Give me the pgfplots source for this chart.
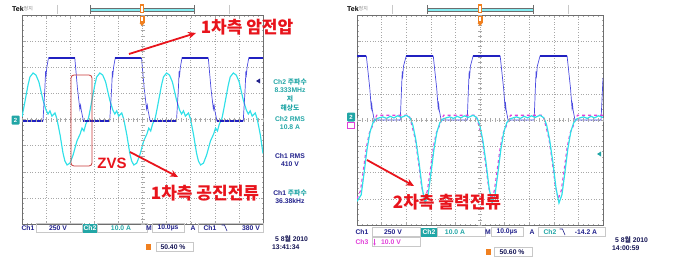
\documentclass[border=0pt]{standalone}
\usepackage{pgfplots}
\pgfplotsset{compat=1.18}
\usepackage{fontspec}
\setmainfont{Liberation Sans}
\newfontfamily\kr{Noto Sans CJK KR}
\usetikzlibrary{arrows.meta}
\definecolor{chone}{HTML}{2020C0}
\definecolor{choneedge}{HTML}{4A4AE0}
\definecolor{chtwo}{HTML}{30E0E8}
\definecolor{chthree}{HTML}{E040D8}
\definecolor{tealt}{HTML}{22A6A6}
\definecolor{navyt}{HTML}{22228C}
\definecolor{redl}{HTML}{E8141C}
\definecolor{boxred}{HTML}{C83838}
\definecolor{orangem}{HTML}{F08020}
\definecolor{gridc}{HTML}{A8A8A8}
\definecolor{framec}{HTML}{6E6E6E}
\definecolor{boxc}{HTML}{C8C8C8}
\pgfplotsset{tekscope/.style={scale only axis, xmin=0,xmax=10,ymin=-4,ymax=4,
  xtick={0,...,10}, ytick={-4,...,4}, minor x tick num=4, minor y tick num=4,
  xticklabels={}, yticklabels={}, tick align=inside,
  major tick length=2.5pt, minor tick length=1.5pt,
  every tick/.style={gridc, line width=0.4pt},
  grid=major, major grid style={gridc, line width=0.5pt, dash pattern=on 0.6pt off 2pt},
  axis line style={framec, line width=0.8pt}, clip=true, anchor=south west,
  unbounded coords=jump}}
\newcommand{\fsz}[1]{\fontsize{#1}{#1}\selectfont}
\begin{document}
\begin{tikzpicture}
\path[use as bounding box] (0,0) rectangle (676pt,-259pt);
% ---------------- LEFT SCOPE ----------------
\begin{axis}[tekscope, at={(22pt,-224pt)}, width=241pt, height=209pt]
\addplot[chtwo, line width=1.15pt] coordinates {
(0,0.10)(0.08,0.48)(0.25,1.32)(0.33,1.63)(0.46,1.78)(0.58,1.70)(0.70,1.44)(0.87,0.75)(1.00,0.36)(1.08,0.21)(1.16,0.33)(1.24,0.13)(1.37,0.25)(1.45,0.02)(1.58,-0.59)(1.70,-1.28)(1.78,-1.59)(1.87,-1.74)(1.99,-1.67)(2.12,-1.36)(2.28,-0.82)(2.41,-0.56)(2.49,-0.33)(2.57,-0.44)(2.65,-0.17)(2.73,-0.02)
(2.77,0.10)(2.85,0.48)(3.02,1.32)(3.10,1.63)(3.23,1.78)(3.35,1.70)(3.47,1.44)(3.64,0.75)(3.77,0.36)(3.85,0.21)(3.93,0.33)(4.01,0.13)(4.14,0.25)(4.22,0.02)(4.35,-0.59)(4.47,-1.28)(4.55,-1.59)(4.64,-1.74)(4.76,-1.67)(4.89,-1.36)(5.05,-0.82)(5.18,-0.56)(5.26,-0.33)(5.34,-0.44)(5.42,-0.17)(5.50,-0.02)
(5.54,0.10)(5.62,0.48)(5.79,1.32)(5.87,1.63)(6.00,1.78)(6.12,1.70)(6.24,1.44)(6.41,0.75)(6.54,0.36)(6.62,0.21)(6.70,0.33)(6.78,0.13)(6.91,0.25)(6.99,0.02)(7.12,-0.59)(7.24,-1.28)(7.32,-1.59)(7.41,-1.74)(7.53,-1.67)(7.66,-1.36)(7.82,-0.82)(7.95,-0.56)(8.03,-0.33)(8.11,-0.44)(8.19,-0.17)(8.27,-0.02)
(8.31,0.10)(8.39,0.48)(8.56,1.32)(8.64,1.63)(8.77,1.78)(8.89,1.70)(9.01,1.44)(9.18,0.75)(9.31,0.36)(9.39,0.21)(9.47,0.33)(9.55,0.13)(9.68,0.25)(9.76,0.02)(9.89,-0.59)(10,-1.3)
};
\addplot[choneedge, line width=0.7pt] coordinates {
(0,-0.06)(0.87,-0.06)(0.95,1.2)(0.98,1.85)(1.0,1.7)(1.03,2.0)(1.1,2.36)(2.19,2.36)(2.3,1.2)(2.4,0.4)(2.43,0.55)(2.46,0.35)(2.55,-0.06)
(3.64,-0.06)(3.72,1.2)(3.75,1.85)(3.77,1.7)(3.80,2.0)(3.87,2.36)(4.96,2.36)(5.07,1.2)(5.17,0.4)(5.20,0.55)(5.23,0.35)(5.32,-0.06)
(6.41,-0.06)(6.49,1.2)(6.52,1.85)(6.54,1.7)(6.57,2.0)(6.64,2.36)(7.73,2.36)(7.84,1.2)(7.94,0.4)(7.97,0.55)(8.00,0.35)(8.09,-0.06)
(9.18,-0.06)(9.26,1.2)(9.29,1.85)(9.31,1.7)(9.34,2.0)(9.41,2.36)(10,2.36)
};
\addplot[chone, line width=1.7pt] coordinates {
(0,-0.06)(0.87,-0.06)(nan,nan)(1.1,2.36)(2.19,2.36)(nan,nan)(2.55,-0.06)(3.64,-0.06)(nan,nan)
(3.87,2.36)(4.96,2.36)(nan,nan)(5.32,-0.06)(6.41,-0.06)(nan,nan)(6.64,2.36)(7.73,2.36)(nan,nan)
(8.09,-0.06)(9.18,-0.06)(nan,nan)(9.41,2.36)(10,2.36)
};
\end{axis}
% ---------------- RIGHT SCOPE ----------------
\begin{axis}[tekscope, at={(357pt,-225pt)}, width=246pt, height=210pt]
\addplot[choneedge, line width=0.7pt] coordinates {
(0,2.44)(0.38,2.44)(0.52,1.2)(0.58,0.46)(0.60,0.6)(0.62,0.4)(0.70,0.0)
(1.76,0.0)(1.81,1.2)(1.84,1.85)(1.86,1.7)(1.89,2.05)(2.00,2.44)(3.10,2.44)(3.24,1.2)(3.30,0.46)(3.32,0.6)(3.34,0.4)(3.42,0.0)
(4.48,0)(4.53,1.2)(4.56,1.85)(4.58,1.7)(4.61,2.05)(4.72,2.44)(5.82,2.44)(5.96,1.2)(6.02,0.46)(6.04,0.6)(6.06,0.4)(6.14,0)
(7.20,0)(7.25,1.2)(7.28,1.85)(7.30,1.7)(7.33,2.05)(7.44,2.44)(8.54,2.44)(8.68,1.2)(8.74,0.46)(8.76,0.6)(8.78,0.4)(8.86,0)
(9.92,0)(9.97,1.0)(10,1.6)
};
\addplot[chone, line width=1.7pt] coordinates {
(0,2.44)(0.38,2.44)(nan,nan)(2.00,2.44)(3.10,2.44)(nan,nan)(4.72,2.44)(5.82,2.44)(nan,nan)(7.44,2.44)(8.54,2.44)
};
\addplot[chthree, line width=1.1pt, dash pattern=on 3pt off 3pt] coordinates {
(0,-3.0)(0.14,-2.7)(0.26,-1.9)(0.38,-1.05)(0.50,-0.5)(0.62,-0.25)(0.72,0.0)(0.80,0.18)(2.12,0.18)(2.20,-0.1)(2.36,-0.7)(2.49,-1.55)(2.62,-2.5)(2.74,-3.0)(2.86,-2.7)(2.98,-1.9)(3.10,-1.05)(3.22,-0.5)(3.34,-0.25)(3.44,0.0)(3.52,0.18)(4.84,0.18)(4.92,-0.1)(5.08,-0.7)(5.21,-1.55)(5.34,-2.5)(5.46,-3.0)(5.58,-2.7)(5.70,-1.9)(5.82,-1.05)(5.94,-0.5)(6.06,-0.25)(6.16,0.0)(6.24,0.18)(7.56,0.18)(7.64,-0.1)(7.80,-0.7)(7.93,-1.55)(8.06,-2.5)(8.18,-3.0)(8.30,-2.7)(8.42,-1.9)(8.54,-1.05)(8.66,-0.5)(8.78,-0.25)(8.88,0.0)(8.96,0.18)(10,0.18)
};
\addplot[chtwo, line width=1.2pt] coordinates {
(0,-3.1)(0.17,-2.85)(0.29,-2.0)(0.41,-1.1)(0.53,-0.45)(0.65,-0.1)(0.77,0.04)(0.90,0.08)(1.05,0.12)(1.2,0.06)(1.35,0.14)(1.5,0.08)(1.65,0.16)(1.8,0.10)(2.0,0.18)(2.10,0.12)(2.17,0.06)
(2.27,-0.2)(2.39,-0.75)(2.52,-1.6)(2.65,-2.6)(2.77,-3.16)(2.89,-2.85)(3.01,-2.0)(3.13,-1.1)(3.25,-0.45)(3.37,-0.1)(3.49,0.04)(3.62,0.08)(3.77,0.12)(3.92,0.06)(4.07,0.14)(4.22,0.08)(4.37,0.16)(4.52,0.10)(4.72,0.18)(4.82,0.12)(4.89,0.06)
(4.99,-0.2)(5.11,-0.75)(5.24,-1.6)(5.37,-2.6)(5.49,-3.16)(5.61,-2.85)(5.73,-2.0)(5.85,-1.1)(5.97,-0.45)(6.09,-0.1)(6.21,0.04)(6.34,0.08)(6.49,0.12)(6.64,0.06)(6.79,0.14)(6.94,0.08)(7.09,0.16)(7.24,0.10)(7.44,0.18)(7.54,0.12)(7.61,0.06)
(7.71,-0.2)(7.83,-0.75)(7.96,-1.6)(8.09,-2.6)(8.21,-3.16)(8.33,-2.85)(8.45,-2.0)(8.57,-1.1)(8.69,-0.45)(8.81,-0.1)(8.93,0.04)(9.06,0.08)(9.21,0.12)(9.36,0.06)(9.51,0.14)(9.66,0.08)(9.81,0.16)(10,0.10)
};
\end{axis}
% ---------------- DECORATIONS (pixel coordinates) ----------------
\begin{scope}[x=1pt,y=-1pt]
% centre-line ticks
\foreach \i in {0,...,50}{
  \draw[gridc, line width=0.4pt] ({22+\i*4.82},117.5)--({22+\i*4.82},121.5);
  \draw[gridc, line width=0.4pt] ({357+\i*4.92},118)--({357+\i*4.92},122);}
\foreach \i in {0,...,40}{
  \draw[gridc, line width=0.4pt] (140.5,{15+\i*5.225})--(144.5,{15+\i*5.225});
  \draw[gridc, line width=0.4pt] (478,{15+\i*5.25})--(482,{15+\i*5.25});}
% ---- top status bars
\foreach \tk/\sa/\sb/\ba/\bb/\cx in {12/57/229/90/194/142, 347/392/568/427/533/480}{
  \node[anchor=west, inner sep=0, font=\bfseries\fsz{7}] at (\tk,9) {Tek};
  \node[anchor=west, inner sep=0, text=gray, font=\kr\fsz{5}] at (\tk+11.5,9) {정지};
  \draw[boxc, line width=0.6pt] (\sa,5)--(\sa,14) (\sb,5)--(\sb,14);
  \draw[framec, line width=0.6pt] (\ba,5)--(\ba,14) (\bb,5)--(\bb,14);
  \draw[framec, line width=0.3pt] (\ba,8.5)--(\bb,8.5) (\ba,11.5)--(\bb,11.5);
  \fill[chtwo!60!white] (\ba+0.5,8.8) rectangle (\bb-0.5,11.2);
  \fill[orangem] (\cx-1.8,4.5) rectangle (\cx+1.8,13);
  \fill[white] (\cx-0.6,6) rectangle (\cx+0.6,12);
  \fill[orangem] (\cx-2.5,16.5) rectangle (\cx+2.5,23);
  \fill[orangem] (\cx-2.5,23)--(\cx+2.5,23)--(\cx,26)--cycle;
  \fill[white] (\cx-0.8,17.5) rectangle (\cx+0.8,21.5);
}
% ---- channel markers
\fill[tealt, rounded corners=1pt] (11.5,115.5) rectangle (19.5,124.5);
\node[text=white, font=\bfseries\fsz{6}, inner sep=0] at (15.5,120) {2};
\fill[tealt, rounded corners=1pt] (347,112.5) rectangle (355,121.5);
\node[text=white, font=\bfseries\fsz{6}, inner sep=0] at (351,117) {2};
\draw[chthree, line width=0.5pt] (347.5,122.5) rectangle (354.5,128.5);
\fill[navyt] (256,81)--(260,78.5)--(260,83.5)--cycle;
\fill[tealt] (597,154)--(601,151.5)--(601,156.5)--cycle;
% ---- right-side measurement texts (left scope)
\begin{scope}[every node/.style={inner sep=0, font=\bfseries\fsz{6.8}}]
\node[text=tealt] at (290,82) {Ch2 {\kr 주파수}};
\node[text=tealt] at (290,90) {8.333MHz};
\node[text=tealt] at (290,99) {\kr 저};
\node[text=tealt] at (290,107.5) {\kr 해상도};
\node[text=tealt] at (290,119) {Ch2 RMS};
\node[text=tealt] at (290,127) {10.8 A};
\node[text=navyt] at (290,156) {Ch1 RMS};
\node[text=navyt] at (290,164) {410 V};
\node[text=navyt] at (290,193) {Ch1 {\kr\color{tealt} 주파수}};
\node[text=navyt] at (290,201) {36.38kHz};
\end{scope}
% ---- bottom status bars
\begin{scope}[every node/.style={inner sep=0, font=\bfseries\fsz{6.8}}]
% left
\node[text=navyt] at (28,228) {Ch1};
\draw[boxc, line width=0.5pt] (36,223.5) rectangle (82,232.5);
\node[text=navyt] at (58,228) {250 V};
\fill[tealt] (83,223.5) rectangle (97,232.5);
\node[text=white] at (90,228) {Ch2};
\draw[boxc, line width=0.5pt] (97,223.5) rectangle (147,232.5);
\node[text=tealt] at (121,228) {10.0 A};
\node[text=navyt] at (149,228) {M};
\draw[boxc, line width=0.5pt] (152,223.5) rectangle (184,232.5);
\node[text=navyt] at (168,228) {10.0µs};
\node[text=navyt] at (193,228) {A};
\draw[boxc, line width=0.5pt] (198,223.5) rectangle (263,232.5);
\node[text=navyt] at (210,228) {Ch1};
\draw[navyt, line width=0.6pt] (221.5,225)--(224.5,225)--(227,231);
\node[text=navyt] at (251,228) {380 V};
\node[text=navyt!60!black, anchor=west] at (275,239) {5 8{\kr 월} 2010};
\node[text=navyt!60!black, anchor=west] at (272,247) {13:41:34};
\fill[orangem] (146,244) rectangle (151,250);
\draw[boxc, line width=0.5pt] (156,242.5) rectangle (193,251.5);
\node[text=navyt!60!black] at (173,247) {50.40 \%};
% right
\node[text=navyt] at (362,232) {Ch1};
\draw[boxc, line width=0.5pt] (372,227.5) rectangle (420,236.5);
\node[text=navyt] at (393,232) {250 V};
\fill[tealt] (421,227.5) rectangle (437,236.5);
\node[text=white] at (429,232) {Ch2};
\draw[boxc, line width=0.5pt] (437,227.5) rectangle (485,236.5);
\node[text=tealt] at (455,232) {10.0 A};
\node[text=navyt] at (488,232) {M};
\draw[boxc, line width=0.5pt] (491,227.5) rectangle (523,236.5);
\node[text=navyt] at (507,232) {10.0µs};
\node[text=navyt] at (532,232) {A};
\draw[boxc, line width=0.5pt] (538,227.5) rectangle (605,236.5);
\node[text=tealt] at (550,232) {Ch2};
\draw[navyt, line width=0.6pt] (559.5,229)--(562.5,229)--(565,235);
\node[text=navyt] at (586,232) {-14.2 A};
\node[text=chthree] at (362,242) {Ch3};
\draw[boxc, line width=0.5pt] (372,237.5) rectangle (420,246.5);
\draw[chthree, line width=0.6pt, -{Stealth[length=2pt,width=2.5pt]}] (374.5,238.5)--(374.5,245.5);
\node[text=chthree] at (391,242) {10.0 V};
\node[text=navyt!60!black, anchor=west] at (615,240) {5 8{\kr 월} 2010};
\node[text=navyt!60!black, anchor=west] at (612,248) {14:00:59};
\fill[orangem] (486,249) rectangle (491,255);
\draw[boxc, line width=0.5pt] (494,247.5) rectangle (532,256.5);
\node[text=navyt!60!black] at (512,252) {50.60 \%};
\end{scope}
% ---- red annotations
\draw[redl, line width=1.8pt, -{Stealth[length=8pt,width=7pt]}] (129,54)--(196,33);
\node[text=redl, inner sep=0, font=\kr\bfseries\fsz{17}] at (247,27) {1차측 암전압};
\draw[boxred, line width=0.8pt, rounded corners=3pt] (71,75) rectangle (92,166);
\node[text=redl, inner sep=0, font=\bfseries\fsz{15}] at (112,163) {ZVS};
\draw[redl, line width=1.8pt, -{Stealth[length=8pt,width=7pt]}] (130,152)--(178,177);
\node[text=redl, inner sep=0, font=\kr\bfseries\fsz{17}] at (205,193) {1차측 공진전류};
\draw[redl, line width=1.8pt, -{Stealth[length=8pt,width=7pt]}] (367,160)--(414,186);
\node[text=redl, inner sep=0, font=\kr\bfseries\fsz{17}] at (447,202) {2차측 출력전류};
\end{scope}
\end{tikzpicture}
\end{document}
